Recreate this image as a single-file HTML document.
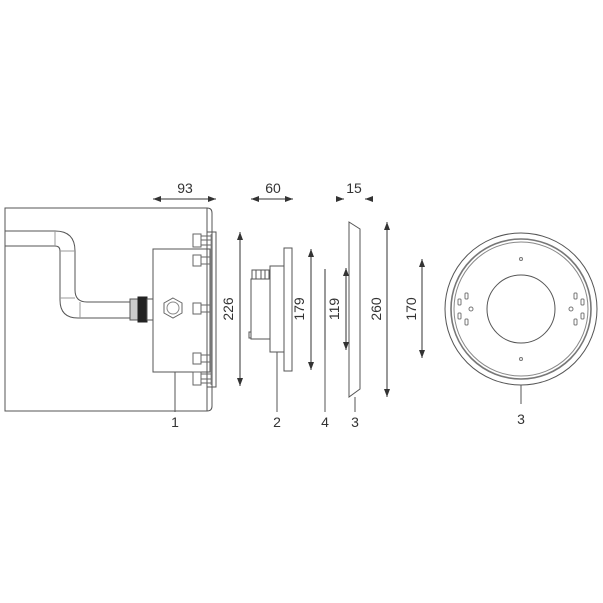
<!DOCTYPE html>
<html><head><style>html,body{margin:0;padding:0;background:#fff}svg{display:block}</style></head>
<body>
<svg width="603" height="603" viewBox="0 0 603 603" xmlns="http://www.w3.org/2000/svg" font-family="Liberation Sans, sans-serif" fill="none" stroke="#555" stroke-width="1">
<defs>
<marker id="a" markerWidth="8" markerHeight="6" refX="8" refY="3" orient="auto-start-reverse" markerUnits="userSpaceOnUse"><path d="M0,0 L8,3 L0,6 Z" fill="#333" stroke="none"/></marker>
</defs>
<!-- wall box -->
<path d="M207,208 H5 V411 H207"/>
<path d="M207,208 Q212,208 212,213 V406 Q212,411 207,411 Z"/>
<!-- pipe -->
<path d="M5,231 H55 Q75,231 75,251 V290 Q75,302 87,302 H130"/>
<path d="M5,246 H55 Q60,246 60,251 V300 Q60,318 78,318 H130"/>
<line x1="55" y1="231" x2="55" y2="246" stroke="#999"/><line x1="60" y1="251" x2="75" y2="251" stroke="#999"/><line x1="60" y1="298" x2="75" y2="298" stroke="#999"/><line x1="80" y1="302" x2="80" y2="318" stroke="#999"/>
<!-- nut/gland -->
<rect x="130" y="299" width="8" height="21" fill="#ccc"/>
<rect x="138" y="297" width="9" height="25" fill="#222" stroke="#222"/>
<rect x="147" y="299" width="6" height="21"/>
<!-- junction box -->
<rect x="153" y="249" width="57" height="123"/>
<polygon points="173,298 182,303 182,313 173,318 164,313 164,303" stroke="#666"/>
<circle cx="173" cy="308" r="6" stroke="#888"/>
<!-- flange -->
<rect x="207" y="232" width="9" height="155"/>
<line x1="211" y1="234" x2="211" y2="385" stroke="#999"/>
<!-- bolts -->
<g stroke="#666">
<rect x="193" y="234" width="8" height="13"/><line x1="201" y1="240" x2="211" y2="240"/><line x1="201" y1="236" x2="211" y2="236"/><line x1="201" y1="245" x2="211" y2="245"/>
<rect x="193" y="255" width="8" height="11"/><line x1="201" y1="257" x2="210" y2="257"/><line x1="201" y1="264" x2="210" y2="264"/>
<rect x="193" y="303" width="8" height="11"/><line x1="201" y1="305" x2="210" y2="305"/><line x1="201" y1="312" x2="210" y2="312"/>
<rect x="193" y="353" width="8" height="11"/><line x1="201" y1="355" x2="210" y2="355"/><line x1="201" y1="362" x2="210" y2="362"/>
<rect x="193" y="372" width="8" height="13"/><line x1="201" y1="374" x2="211" y2="374"/><line x1="201" y1="379" x2="211" y2="379"/><line x1="201" y1="383" x2="211" y2="383"/>
</g>
<!-- part 2 -->
<rect x="251" y="279" width="19" height="60"/>
<rect x="252" y="270" width="17" height="9"/>
<line x1="256" y1="270" x2="256" y2="279"/><line x1="261" y1="270" x2="261" y2="279"/><line x1="265" y1="270" x2="265" y2="279"/>
<rect x="249" y="332" width="2" height="6"/>
<rect x="270" y="266" width="14" height="86"/>
<rect x="284" y="248" width="8" height="123"/>
<!-- part 4 -->
<line x1="325" y1="269" x2="325" y2="350" stroke="#777" stroke-width="1.5"/>
<!-- part 3 side -->
<polygon points="349,222 360,229 360,389 349,397"/>
<!-- part 3 front -->
<circle cx="521" cy="309" r="76"/>
<circle cx="521" cy="309" r="70" stroke="#777" stroke-width="1.6"/>
<circle cx="521" cy="309" r="67" stroke="#888"/>
<circle cx="521" cy="309" r="34"/>
<g stroke="#777">
<circle cx="521" cy="259" r="1.5"/><circle cx="521" cy="359" r="1.5"/>
<circle cx="471" cy="309" r="2"/><circle cx="571" cy="309" r="2"/>
<rect x="465" y="293" width="3" height="6" rx="1"/><rect x="458" y="299" width="3" height="6" rx="1"/><rect x="458" y="313" width="3" height="6" rx="1"/><rect x="465" y="319" width="3" height="6" rx="1"/>
<rect x="574" y="293" width="3" height="6" rx="1"/><rect x="581" y="299" width="3" height="6" rx="1"/><rect x="581" y="313" width="3" height="6" rx="1"/><rect x="574" y="319" width="3" height="6" rx="1"/>
</g>
<!-- leaders -->
<g stroke="#555">
<line x1="175" y1="372" x2="175" y2="412"/>
<line x1="277" y1="352" x2="277" y2="412"/>
<line x1="325" y1="350" x2="325" y2="412"/>
<line x1="355" y1="397" x2="355" y2="412"/>
<line x1="521" y1="385" x2="521" y2="404"/>
</g>
<!-- dimensions -->
<g stroke="#333" marker-start="url(#a)" marker-end="url(#a)">
<line x1="153" y1="199" x2="216" y2="199"/>
<line x1="251" y1="199" x2="293" y2="199"/>
<line x1="240" y1="232" x2="240" y2="386"/>
<line x1="311" y1="249" x2="311" y2="370"/>
<line x1="346" y1="268" x2="346" y2="350"/>
<line x1="387" y1="222" x2="387" y2="397"/>
<line x1="422" y1="259" x2="422" y2="358"/>
</g>
<g stroke="#333">
<line x1="336" y1="199" x2="344" y2="199" marker-end="url(#a)"/>
<line x1="373" y1="199" x2="365" y2="199" marker-end="url(#a)"/>
</g>
<g fill="#333" stroke="none" font-size="14" text-anchor="middle">
<text x="185" y="193">93</text>
<text x="273" y="193">60</text>
<text x="354" y="193">15</text>
<text transform="translate(233,309) rotate(-90)">226</text>
<text transform="translate(304,309) rotate(-90)">179</text>
<text transform="translate(339,309) rotate(-90)">119</text>
<text transform="translate(381,309) rotate(-90)">260</text>
<text transform="translate(416,309) rotate(-90)">170</text>
<text x="175" y="427">1</text>
<text x="277" y="427">2</text>
<text x="325" y="427">4</text>
<text x="355" y="427">3</text>
<text x="521" y="424">3</text>
</g>
</svg>
</body></html>
